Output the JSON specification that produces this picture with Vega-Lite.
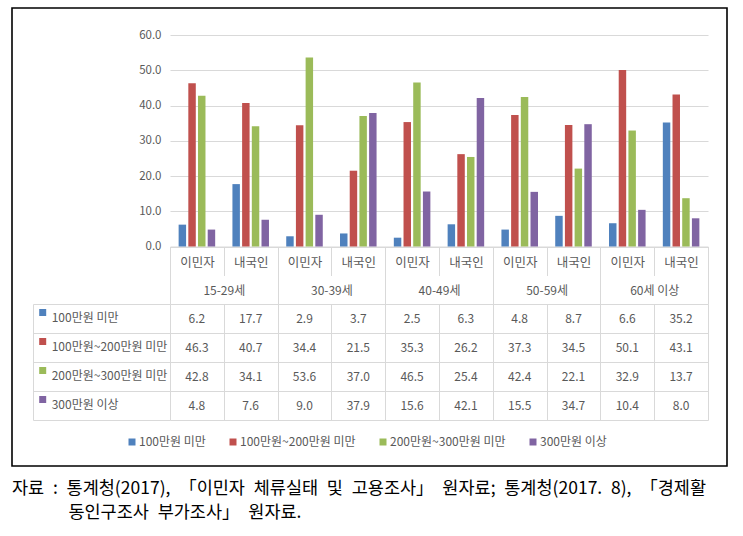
{
  "$schema": "https://vega.github.io/schema/vega-lite/v6.json",
  "width": 715,
  "height": 458,
  "autosize": {"type": "none"},
  "padding": {"left": 12, "top": 8, "right": 16, "bottom": 70},
  "background": "white",
  "config": {
    "view": {"stroke": "black", "strokeWidth": 1.6},
    "font": "Noto Sans CJK KR",
    "axis": {"labelFont": "Noto Sans CJK KR", "labelColor": "#595959"},
    "legend": {"labelFont": "Noto Sans CJK KR", "labelColor": "#595959"}
  },
  "title": {
    "text": [
      "자료\u2002:\u2002통계청(2017),\u2002「이민자\u2002체류실태\u2002및\u2002고용조사」\u2002원자료;\u2002통계청(2017.\u20028),\u2002「경제활",
      "\u200b\u3000\u3000\u3000\u00a0동인구조사\u2002부가조사」\u2002원자료."
    ],
    "orient": "bottom",
    "anchor": "start",
    "frame": "group",
    "offset": 14,
    "font": "Noto Sans CJK KR",
    "fontSize": 17.5,
    "fontWeight": "normal",
    "color": "black",
    "lineHeight": 24,
    "baseline": "top"
  },
  "data": {
    "values": [
      {"age": "15-29세", "group": "이민자", "col": "15-29세|이민자", "series": "100만원 미만", "value": 6.2},
      {"age": "15-29세", "group": "내국인", "col": "15-29세|내국인", "series": "100만원 미만", "value": 17.7},
      {"age": "30-39세", "group": "이민자", "col": "30-39세|이민자", "series": "100만원 미만", "value": 2.9},
      {"age": "30-39세", "group": "내국인", "col": "30-39세|내국인", "series": "100만원 미만", "value": 3.7},
      {"age": "40-49세", "group": "이민자", "col": "40-49세|이민자", "series": "100만원 미만", "value": 2.5},
      {"age": "40-49세", "group": "내국인", "col": "40-49세|내국인", "series": "100만원 미만", "value": 6.3},
      {"age": "50-59세", "group": "이민자", "col": "50-59세|이민자", "series": "100만원 미만", "value": 4.8},
      {"age": "50-59세", "group": "내국인", "col": "50-59세|내국인", "series": "100만원 미만", "value": 8.7},
      {"age": "60세 이상", "group": "이민자", "col": "60세 이상|이민자", "series": "100만원 미만", "value": 6.6},
      {"age": "60세 이상", "group": "내국인", "col": "60세 이상|내국인", "series": "100만원 미만", "value": 35.2},
      {"age": "15-29세", "group": "이민자", "col": "15-29세|이민자", "series": "100만원~200만원 미만", "value": 46.3},
      {"age": "15-29세", "group": "내국인", "col": "15-29세|내국인", "series": "100만원~200만원 미만", "value": 40.7},
      {"age": "30-39세", "group": "이민자", "col": "30-39세|이민자", "series": "100만원~200만원 미만", "value": 34.4},
      {"age": "30-39세", "group": "내국인", "col": "30-39세|내국인", "series": "100만원~200만원 미만", "value": 21.5},
      {"age": "40-49세", "group": "이민자", "col": "40-49세|이민자", "series": "100만원~200만원 미만", "value": 35.3},
      {"age": "40-49세", "group": "내국인", "col": "40-49세|내국인", "series": "100만원~200만원 미만", "value": 26.2},
      {"age": "50-59세", "group": "이민자", "col": "50-59세|이민자", "series": "100만원~200만원 미만", "value": 37.3},
      {"age": "50-59세", "group": "내국인", "col": "50-59세|내국인", "series": "100만원~200만원 미만", "value": 34.5},
      {"age": "60세 이상", "group": "이민자", "col": "60세 이상|이민자", "series": "100만원~200만원 미만", "value": 50.1},
      {"age": "60세 이상", "group": "내국인", "col": "60세 이상|내국인", "series": "100만원~200만원 미만", "value": 43.1},
      {"age": "15-29세", "group": "이민자", "col": "15-29세|이민자", "series": "200만원~300만원 미만", "value": 42.8},
      {"age": "15-29세", "group": "내국인", "col": "15-29세|내국인", "series": "200만원~300만원 미만", "value": 34.1},
      {"age": "30-39세", "group": "이민자", "col": "30-39세|이민자", "series": "200만원~300만원 미만", "value": 53.6},
      {"age": "30-39세", "group": "내국인", "col": "30-39세|내국인", "series": "200만원~300만원 미만", "value": 37.0},
      {"age": "40-49세", "group": "이민자", "col": "40-49세|이민자", "series": "200만원~300만원 미만", "value": 46.5},
      {"age": "40-49세", "group": "내국인", "col": "40-49세|내국인", "series": "200만원~300만원 미만", "value": 25.4},
      {"age": "50-59세", "group": "이민자", "col": "50-59세|이민자", "series": "200만원~300만원 미만", "value": 42.4},
      {"age": "50-59세", "group": "내국인", "col": "50-59세|내국인", "series": "200만원~300만원 미만", "value": 22.1},
      {"age": "60세 이상", "group": "이민자", "col": "60세 이상|이민자", "series": "200만원~300만원 미만", "value": 32.9},
      {"age": "60세 이상", "group": "내국인", "col": "60세 이상|내국인", "series": "200만원~300만원 미만", "value": 13.7},
      {"age": "15-29세", "group": "이민자", "col": "15-29세|이민자", "series": "300만원 이상", "value": 4.8},
      {"age": "15-29세", "group": "내국인", "col": "15-29세|내국인", "series": "300만원 이상", "value": 7.6},
      {"age": "30-39세", "group": "이민자", "col": "30-39세|이민자", "series": "300만원 이상", "value": 9.0},
      {"age": "30-39세", "group": "내국인", "col": "30-39세|내국인", "series": "300만원 이상", "value": 37.9},
      {"age": "40-49세", "group": "이민자", "col": "40-49세|이민자", "series": "300만원 이상", "value": 15.6},
      {"age": "40-49세", "group": "내국인", "col": "40-49세|내국인", "series": "300만원 이상", "value": 42.1},
      {"age": "50-59세", "group": "이민자", "col": "50-59세|이민자", "series": "300만원 이상", "value": 15.5},
      {"age": "50-59세", "group": "내국인", "col": "50-59세|내국인", "series": "300만원 이상", "value": 34.7},
      {"age": "60세 이상", "group": "이민자", "col": "60세 이상|이민자", "series": "300만원 이상", "value": 10.4},
      {"age": "60세 이상", "group": "내국인", "col": "60세 이상|내국인", "series": "300만원 이상", "value": 8.0}
    ]
  },
  "layer": [
    {
      "mark": {"type": "bar"},
      "encoding": {
        "x": {
          "field": "col", "type": "nominal",
          "scale": {"domain": ["15-29세|이민자", "15-29세|내국인", "30-39세|이민자", "30-39세|내국인", "40-49세|이민자", "40-49세|내국인", "50-59세|이민자", "50-59세|내국인", "60세 이상|이민자", "60세 이상|내국인"], "range": [158, 696], "paddingInner": 0, "paddingOuter": 0},
          "axis": {"orient": "bottom", "offset": -219.5, "title": null, "tickBand": "extent", "tickSize": 29, "tickColor": "#d9d9d9", "domainColor": "#d9d9d9", "labelExpr": "split(datum.label, '|')[1]", "labelBaseline": "middle", "labelPadding": -13.5, "labelFontSize": 12.5, "labelAngle": 0, "grid": false}
        },
        "xOffset": {
          "field": "series", "type": "nominal",
          "scale": {"domain": ["100만원 미만", "100만원~200만원 미만", "200만원~300만원 미만", "300만원 이상"], "paddingInner": 0.23, "paddingOuter": 0.89}
        },
        "y": {
          "field": "value", "type": "quantitative",
          "scale": {"domain": [0, 60], "range": [238.5, 27], "nice": false},
          "axis": {"orient": "left", "offset": -158, "title": null, "values": [0, 10, 20, 30, 40, 50, 60], "format": ".1f", "grid": true, "gridColor": "#d9d9d9", "domain": false, "ticks": false, "tickSize": 0, "labelPadding": 9, "labelFontSize": 11.5}
        },
        "color": {
          "field": "series", "type": "nominal",
          "scale": {"domain": ["100만원 미만", "100만원~200만원 미만", "200만원~300만원 미만", "300만원 이상"], "range": ["#4f81bd", "#c0504d", "#9bbb59", "#8064a2"]},
          "legend": {"orient": "none", "legendX": 114, "legendY": 428, "direction": "horizontal", "title": null, "symbolType": "square", "symbolSize": 49, "symbolStrokeWidth": 0, "labelFontSize": 12, "labelOffset": 1, "columnPadding": 21, "padding": 0, "labelLimit": 300}
        }
      }
    },
    {
      "mark": {"type": "text", "opacity": 0},
      "encoding": {
        "x": {
          "field": "age", "type": "nominal",
          "scale": {"domain": ["15-29세", "30-39세", "40-49세", "50-59세", "60세 이상"], "range": [158, 696], "paddingInner": 0, "paddingOuter": 0},
          "axis": {"orient": "bottom", "offset": -219.5, "title": null, "domain": false, "tickBand": "extent", "tickSize": 57.5, "tickColor": "#d9d9d9", "labelBaseline": "middle", "labelPadding": -14, "labelAngle": 0, "labelFontSize": 12, "grid": false}
        },
        "color": {
          "field": "series", "type": "nominal",
          "scale": {"domain": ["100만원 미만", "100만원~200만원 미만", "200만원~300만원 미만", "300만원 이상"], "range": ["#4f81bd", "#c0504d", "#9bbb59", "#8064a2"]},
          "legend": {"orient": "none", "legendX": 24.7, "legendY": 298.5, "direction": "vertical", "title": null, "symbolType": "square", "symbolSize": 49, "symbolOpacity": 1, "symbolStrokeWidth": 0, "labelFontSize": 12, "labelOffset": 3, "labelBaseline": "top", "rowPadding": 12, "padding": 0, "labelLimit": 300}
        }
      }
    },
    {
      "mark": {"type": "text", "fontSize": 12, "color": "#595959", "font": "Noto Sans CJK KR"},
      "encoding": {
        "x": {
          "field": "col", "type": "nominal",
          "scale": {"domain": ["15-29세|이민자", "15-29세|내국인", "30-39세|이민자", "30-39세|내국인", "40-49세|이민자", "40-49세|내국인", "50-59세|이민자", "50-59세|내국인", "60세 이상|이민자", "60세 이상|내국인"], "range": [158, 696], "paddingInner": 0, "paddingOuter": 0},
          "axis": {"orient": "top", "title": null, "labels": false, "ticks": false, "domain": false, "grid": true, "tickBand": "extent", "gridColor": "#d9d9d9"}
        },
        "y": {
          "field": "series", "type": "nominal",
          "scale": {"domain": ["100만원 미만", "100만원~200만원 미만", "200만원~300만원 미만", "300만원 이상"], "range": [296, 412], "paddingInner": 0, "paddingOuter": 0},
          "axis": {"orient": "left", "offset": -21, "title": null, "labels": false, "ticks": true, "tickSize": -137, "tickBand": "extent", "tickColor": "#d9d9d9", "domain": true, "domainColor": "#d9d9d9", "grid": true, "gridColor": "#d9d9d9"}
        },
        "text": {"field": "value", "type": "quantitative", "format": ".1f"}
      }
    }
  ],
  "resolve": {
    "scale": {"x": "independent", "y": "independent", "color": "independent"},
    "axis": {"x": "independent", "y": "independent"},
    "legend": {"color": "independent"}
  }
}
